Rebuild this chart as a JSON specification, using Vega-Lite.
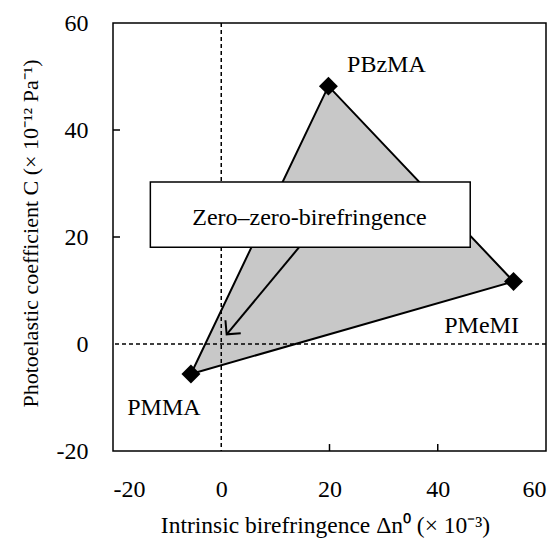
{
  "$schema": "https://vega.github.io/schema/vega-lite/v6.json",
  "autosize": {"type": "none"},
  "padding": {"left": 113, "top": 23, "right": 14, "bottom": 88},
  "width": 433,
  "height": 428,
  "config": {
    "view": {"stroke": "black", "strokeWidth": 1.5},
    "axis": {"grid": false, "domain": false, "ticks": false,
      "labelFont": "Liberation Serif", "labelFontSize": 24, "labelColor": "black",
      "labelExpr": "replace(datum.label, '−', '-')",
      "titleFont": "Liberation Serif", "titleFontWeight": "normal", "titleColor": "black"}
  },
  "datasets": {
    "polymers": [
      {"name": "PMMA", "dn": -5.6, "c": -5.6, "ord": 0},
      {"name": "PBzMA", "dn": 19.8, "c": 48.2, "ord": 1},
      {"name": "PMeMI", "dn": 54.0, "c": 11.7, "ord": 2},
      {"name": "PMMA", "dn": -5.6, "c": -5.6, "ord": 3}
    ],
    "box": [{"x1": -13.1, "x2": 46.0, "y1": 18.1, "y2": 30.3, "xc": 16.3, "yc": 23.6, "label": "Zero–zero-birefringence"}],
    "arrow": [{"x": 14.4, "y": 18.1, "x2": 1.0, "y2": 1.8}],
    "zero": [{"v": 0}],
    "tickvals": [{"v": 20}, {"v": 40}]
  },
  "layer": [
    {
      "data": {"name": "polymers"},
      "mark": {"type": "line", "fill": "#c8c8c8", "stroke": "black", "strokeWidth": 2},
      "encoding": {
        "x": {"field": "dn", "type": "quantitative", "scale": {"domain": [-20, 60], "nice": false},
          "axis": {"values": [-20, 0, 20, 40, 60], "title": "Intrinsic birefringence Δn⁰ (× 10⁻³)", "titleFontSize": 23.5, "labelPadding": 26, "titleX": 212, "titleY": 74, "titleBaseline": "middle"}},
        "y": {"field": "c", "type": "quantitative", "scale": {"domain": [-20, 60], "nice": false},
          "axis": {"values": [-20, 0, 20, 40, 60], "title": "Photoelastic coefficient C (× 10⁻¹² Pa⁻¹)", "titleFontSize": 22, "labelPadding": 25, "titleX": -83, "titleY": 210, "titleBaseline": "middle"}},
        "order": {"field": "ord", "type": "quantitative"}
      }
    },
    {
      "data": {"name": "zero"},
      "mark": {"type": "rule", "color": "black", "strokeWidth": 1.5, "strokeDash": [4, 3]},
      "encoding": {"x": {"field": "v", "type": "quantitative"}}
    },
    {
      "data": {"name": "zero"},
      "mark": {"type": "rule", "color": "black", "strokeWidth": 1.5, "strokeDash": [4, 3]},
      "encoding": {"y": {"field": "v", "type": "quantitative"}}
    },
    {
      "data": {"name": "tickvals"},
      "mark": {"type": "rule", "color": "black", "strokeWidth": 1.5},
      "encoding": {
        "x": {"field": "v", "type": "quantitative"},
        "y": {"datum": -20, "type": "quantitative"},
        "y2": {"datum": -18.7}
      }
    },
    {
      "data": {"name": "tickvals"},
      "mark": {"type": "rule", "color": "black", "strokeWidth": 1.5},
      "encoding": {
        "y": {"field": "v", "type": "quantitative"},
        "x": {"datum": -20, "type": "quantitative"},
        "x2": {"datum": -18.7}
      }
    },
    {
      "data": {"name": "polymers"},
      "transform": [{"filter": "datum.ord < 3"}],
      "mark": {"type": "point", "shape": "diamond", "filled": true, "color": "black", "size": 360, "opacity": 1},
      "encoding": {
        "x": {"field": "dn", "type": "quantitative"},
        "y": {"field": "c", "type": "quantitative"}
      }
    },
    {
      "data": {"name": "arrow"},
      "mark": {"type": "rule", "color": "black", "strokeWidth": 2},
      "encoding": {
        "x": {"field": "x", "type": "quantitative"},
        "y": {"field": "y", "type": "quantitative"},
        "x2": {"field": "x2"},
        "y2": {"field": "y2"}
      }
    },
    {
      "data": {"name": "arrow"},
      "mark": {"type": "point", "shape": "M-1,-1L0,0L-1,1", "filled": false, "stroke": "black", "strokeWidth": 2, "size": 400, "angle": 130, "opacity": 1},
      "encoding": {
        "x": {"field": "x2", "type": "quantitative"},
        "y": {"field": "y2", "type": "quantitative"}
      }
    },
    {
      "data": {"name": "box"},
      "mark": {"type": "rect", "fill": "white", "stroke": "black", "strokeWidth": 1.5},
      "encoding": {
        "x": {"field": "x1", "type": "quantitative"},
        "x2": {"field": "x2"},
        "y": {"field": "y1", "type": "quantitative"},
        "y2": {"field": "y2"}
      }
    },
    {
      "data": {"name": "box"},
      "mark": {"type": "text", "font": "Liberation Serif", "fontSize": 24, "color": "black", "baseline": "middle"},
      "encoding": {
        "x": {"field": "xc", "type": "quantitative"},
        "y": {"field": "yc", "type": "quantitative"},
        "text": {"field": "label"}
      }
    },
    {
      "data": {"name": "polymers"},
      "transform": [{"filter": "datum.name == 'PBzMA'"}],
      "mark": {"type": "text", "font": "Liberation Serif", "fontSize": 24, "color": "black", "baseline": "middle", "dx": 58, "dy": -21},
      "encoding": {"x": {"field": "dn", "type": "quantitative"}, "y": {"field": "c", "type": "quantitative"}, "text": {"field": "name"}}
    },
    {
      "data": {"name": "polymers"},
      "transform": [{"filter": "datum.name == 'PMeMI'"}],
      "mark": {"type": "text", "font": "Liberation Serif", "fontSize": 24, "color": "black", "baseline": "middle", "dx": -32, "dy": 45},
      "encoding": {"x": {"field": "dn", "type": "quantitative"}, "y": {"field": "c", "type": "quantitative"}, "text": {"field": "name"}}
    },
    {
      "data": {"name": "polymers"},
      "transform": [{"filter": "datum.name == 'PMMA' && datum.ord == 0"}],
      "mark": {"type": "text", "font": "Liberation Serif", "fontSize": 24, "color": "black", "baseline": "middle", "dx": -27, "dy": 34},
      "encoding": {"x": {"field": "dn", "type": "quantitative"}, "y": {"field": "c", "type": "quantitative"}, "text": {"field": "name"}}
    }
  ]
}
